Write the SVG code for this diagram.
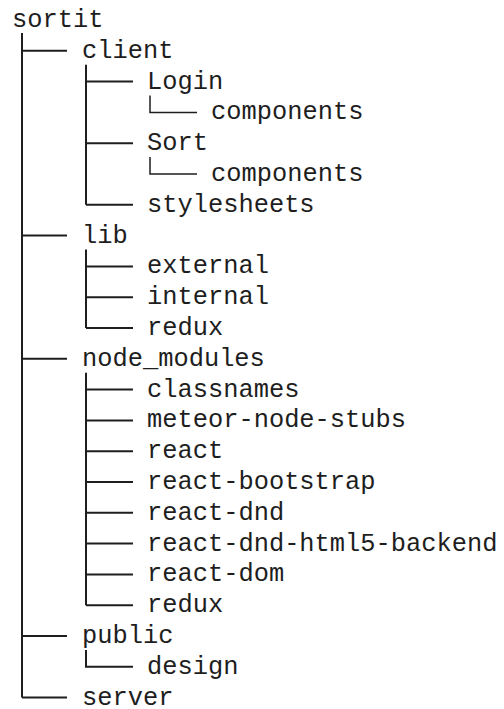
<svg xmlns="http://www.w3.org/2000/svg" width="504" height="709" viewBox="0 0 504 709">
  <style>
    .label { font-family: "Liberation Mono", "DejaVu Sans Mono", monospace; font-size: 25.4px; fill: #1e1e1e; }
    .edge { fill: none; stroke: #1e1e1e; stroke-width: 2; }
    .edge.thin { stroke-width: 1.5; }
  </style>
  <rect width="504" height="709" fill="#ffffff"/>

  <!-- tree connectors: vertical runs from each parent, horizontal ticks to each child -->
  <g id="connectors">
    <!-- sortit -> top-level folders -->
    <path class="edge" d="M22 33 V697.6"/>
    <path class="edge" d="M22 50.8 H67"/>
    <path class="edge" d="M22 235.6 H67"/>
    <path class="edge" d="M22 358.8 H67"/>
    <path class="edge" d="M22 636 H67"/>
    <path class="edge" d="M22 697.6 H67"/>
    <!-- client -->
    <path class="edge" d="M86 64.8 V204.8"/>
    <path class="edge" d="M86 81.6 H133"/>
    <path class="edge" d="M86 143.2 H133"/>
    <path class="edge" d="M86 204.8 H133"/>
    <!-- Login / Sort -> components -->
    <path class="edge thin" d="M150 95.6 V112.4 H197"/>
    <path class="edge thin" d="M150 157 V174 H197"/>
    <!-- lib -->
    <path class="edge" d="M86 249.6 V328"/>
    <path class="edge" d="M86 266.4 H133"/>
    <path class="edge" d="M86 297.2 H133"/>
    <path class="edge" d="M86 328 H133"/>
    <!-- node_modules -->
    <path class="edge" d="M86 372.8 V605.2"/>
    <path class="edge" d="M86 389.6 H133"/>
    <path class="edge" d="M86 420.4 H133"/>
    <path class="edge" d="M86 451.2 H133"/>
    <path class="edge" d="M86 482 H133"/>
    <path class="edge" d="M86 512.8 H133"/>
    <path class="edge" d="M86 543.6 H133"/>
    <path class="edge" d="M86 574.4 H133"/>
    <path class="edge" d="M86 605.2 H133"/>
    <!-- public -> design -->
    <path class="edge" d="M86 650 V666.8 H133"/>
  </g>

  <g id="sortit"><text class="label" x="12" y="27">sortit</text></g>
  <g id="client"><text class="label" x="82" y="57.8">client</text></g>
  <g id="client-login"><text class="label" x="147" y="88.6">Login</text></g>
  <g id="client-login-components"><text class="label" x="211" y="119.4">components</text></g>
  <g id="client-sort"><text class="label" x="147" y="150.2">Sort</text></g>
  <g id="client-sort-components"><text class="label" x="211" y="181">components</text></g>
  <g id="client-stylesheets"><text class="label" x="147" y="211.8">stylesheets</text></g>
  <g id="lib"><text class="label" x="82" y="242.6">lib</text></g>
  <g id="lib-external"><text class="label" x="147" y="273.4">external</text></g>
  <g id="lib-internal"><text class="label" x="147" y="304.2">internal</text></g>
  <g id="lib-redux"><text class="label" x="147" y="335">redux</text></g>
  <g id="node_modules"><text class="label" x="82" y="365.8">node_modules</text></g>
  <g id="nm-classnames"><text class="label" x="147" y="396.6">classnames</text></g>
  <g id="nm-meteor-node-stubs"><text class="label" x="147" y="427.4">meteor-node-stubs</text></g>
  <g id="nm-react"><text class="label" x="147" y="458.2">react</text></g>
  <g id="nm-react-bootstrap"><text class="label" x="147" y="489">react-bootstrap</text></g>
  <g id="nm-react-dnd"><text class="label" x="147" y="519.8">react-dnd</text></g>
  <g id="nm-react-dnd-html5-backend"><text class="label" x="147" y="550.6">react-dnd-html5-backend</text></g>
  <g id="nm-react-dom"><text class="label" x="147" y="581.4">react-dom</text></g>
  <g id="nm-redux"><text class="label" x="147" y="612.2">redux</text></g>
  <g id="public"><text class="label" x="82" y="643">public</text></g>
  <g id="public-design"><text class="label" x="147" y="673.8">design</text></g>
  <g id="server"><text class="label" x="82" y="704.6">server</text></g>
</svg>
